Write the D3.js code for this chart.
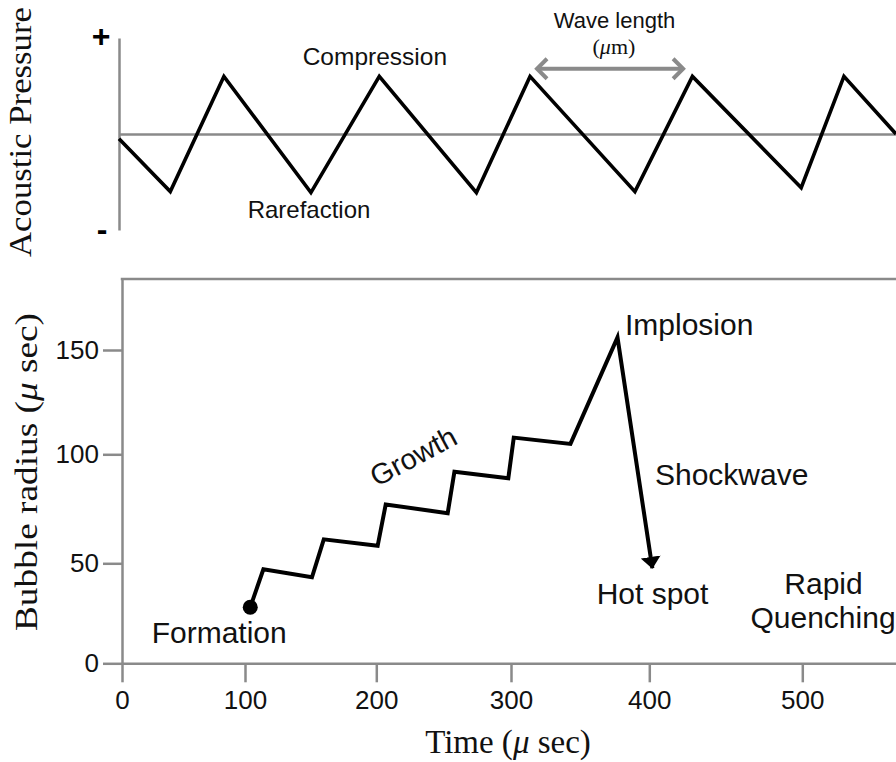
<!DOCTYPE html>
<html><head><meta charset="utf-8">
<script src="https://cdn.jsdelivr.net/npm/d3@7"></script>
<style>
html,body{margin:0;padding:0;background:#fff;}
svg{display:block;}
</style></head><body>
<svg id="chart" width="896" height="762"></svg>
<script>
// ---------------- data ----------------
// top panel: acoustic pressure wave (phase units 0-100, pressure -1..1)
const wavePhase    = [0, 6.6, 13.5, 24.7, 33.5, 46.0, 52.9, 66.4, 73.8, 87.8, 93.3, 100];
const wavePressure = [-0.05, -0.6, 0.6, -0.61, 0.6, -0.61, 0.6, -0.6, 0.6, -0.56, 0.6, 0];
// bottom panel: bubble radius vs time
const bubbleTime   = [104, 114, 151, 160, 201, 207, 253, 258, 298, 302, 343, 377, 402];
const bubbleRadius = [28, 47, 43, 61, 58, 77, 73, 92, 89, 108, 105, 156, 47.5];
const timeTicks    = [0, 100, 200, 300, 400, 500];
const radiusTicks  = [0, 50, 100, 150];
const waveLengthSpan = [53.8, 72.6];
const waveLengthLevel = 0.68;

// ---------------- layout ----------------
const svg = d3.select("#chart");
const AXIS = "#8a8a8a";
const SANS = "'Liberation Sans', Arial, sans-serif";
const SERIF = "'Liberation Serif', 'Times New Roman', serif";

// bottom panel scales (hand-drawn, slightly non-uniform axis)
const xB = d3.scaleLinear()
  .domain([0, 100, 200, 300, 400, 500, 561.4])
  .range([122, 245, 376.3, 511, 649.3, 802.3, 896]);
const yB = d3.scaleLinear()
  .domain([0, 50, 100, 150, 184])
  .range([663.3, 563.3, 454.3, 350, 279]);

// top panel scales
const xT = d3.scaleLinear().domain([0, 100]).range([119, 896]);
const yT = d3.scaleLinear().domain([-1, 1]).range([230, 38]);

// defs
const defs = svg.append("defs");
defs.append("marker").attr("id", "tri")
  .attr("markerUnits", "userSpaceOnUse")
  .attr("viewBox", "0 -10 12 20").attr("markerWidth", 12).attr("markerHeight", 20)
  .attr("refX", 11.5).attr("refY", 0).attr("orient", "auto")
  .append("path").attr("d", "M0,-10L12,0L0,10Z").attr("fill", "#000");
defs.append("marker").attr("id", "chev")
  .attr("markerUnits", "userSpaceOnUse")
  .attr("viewBox", "-14 -14 18 28").attr("markerWidth", 18).attr("markerHeight", 28)
  .attr("refX", 0).attr("refY", 0).attr("orient", "auto-start-reverse")
  .append("path").attr("d", "M-10,-10L0,0L-10,10")
  .attr("fill", "none").attr("stroke", AXIS).attr("stroke-width", 4);

// ---------------- top panel ----------------
const gTop = svg.append("g");
gTop.append("g").attr("transform", `translate(${xT(0)},0)`)
  .call(d3.axisLeft(yT).tickValues([]).tickSizeOuter(0));
gTop.append("g").attr("transform", `translate(0,${yT(0)})`)
  .call(d3.axisBottom(xT).tickValues([]).tickSizeOuter(0));
gTop.selectAll(".domain").attr("stroke", AXIS).attr("stroke-width", 2.5);

const waveData = wavePhase.map((p, i) => [p, wavePressure[i]]);
gTop.append("path").datum(waveData)
  .attr("d", d3.line().x(d => xT(d[0])).y(d => yT(d[1])))
  .attr("fill", "none").attr("stroke", "#000").attr("stroke-width", 3.6)
  .attr("stroke-linejoin", "miter").attr("stroke-miterlimit", 10);

gTop.append("text").attr("x", xT(0) - 18).attr("y", yT(1) + 9)
  .attr("text-anchor", "middle").attr("font-family", SANS).attr("font-weight", "bold")
  .attr("font-size", 32).text("+");
gTop.append("text").attr("x", xT(0) - 17).attr("y", yT(-1) + 10)
  .attr("text-anchor", "middle").attr("font-family", SANS).attr("font-weight", "bold")
  .attr("font-size", 32).text("-");

// wave length arrow
gTop.append("line")
  .attr("x1", xT(waveLengthSpan[0])).attr("x2", xT(waveLengthSpan[1]))
  .attr("y1", yT(waveLengthLevel)).attr("y2", yT(waveLengthLevel))
  .attr("stroke", AXIS).attr("stroke-width", 4)
  .attr("marker-start", "url(#chev)").attr("marker-end", "url(#chev)");

const topLabels = [
  {text: "Compression", p: 23.64, v: 0.719, anchor: "start", size: 24.5},
  {text: "Rarefaction", p: 16.56, v: -0.875, anchor: "start", size: 24},
  {text: "Wave length", p: 63.77, v: 1.104, anchor: "middle", size: 22}
];
gTop.selectAll("text.lbl").data(topLabels).join("text").attr("class", "lbl")
  .attr("x", d => xT(d.p)).attr("y", d => yT(d.v))
  .attr("text-anchor", d => d.anchor).attr("font-family", SANS)
  .attr("font-size", d => d.size).attr("fill", "#111").text(d => d.text);

const um = gTop.append("text").attr("x", xT(63.7)).attr("y", yT(0.83))
  .attr("text-anchor", "middle").attr("font-family", SERIF).attr("font-size", 22).attr("fill", "#111");
um.append("tspan").text("(");
um.append("tspan").attr("font-style", "italic").text("μ");
um.append("tspan").text("m)");

gTop.append("text").attr("transform", "translate(31,132) rotate(-90)")
  .attr("text-anchor", "middle").attr("font-family", SERIF).attr("font-size", 32)
  .attr("fill", "#111").attr("textLength", 250).attr("lengthAdjust", "spacingAndGlyphs")
  .text("Acoustic Pressure");

// ---------------- bottom panel ----------------
const gB = svg.append("g");
const gx = gB.append("g").attr("transform", `translate(0,${yB(0)})`)
  .call(d3.axisBottom(xB).tickValues(timeTicks).tickSize(19).tickSizeOuter(0).tickPadding(8));
const gy = gB.append("g").attr("transform", `translate(${xB(0)},0)`)
  .call(d3.axisLeft(yB).tickValues(radiusTicks).tickSize(19).tickSizeOuter(0).tickPadding(4));
[gx, gy].forEach(g => {
  g.selectAll(".domain").attr("stroke", AXIS).attr("stroke-width", 2.5);
  g.selectAll(".tick line").attr("stroke", AXIS).attr("stroke-width", 2.5);
  g.selectAll(".tick text").attr("font-family", SANS).attr("font-size", 26).attr("fill", "#111");
});
gB.append("line")
  .attr("x1", xB(0) - 1.25).attr("x2", xB.range()[xB.range().length - 1])
  .attr("y1", yB(184)).attr("y2", yB(184))
  .attr("stroke", AXIS).attr("stroke-width", 2.5);

const bubbleData = bubbleTime.map((t, i) => [t, bubbleRadius[i]]);
gB.append("path").datum(bubbleData)
  .attr("d", d3.line().x(d => xB(d[0])).y(d => yB(d[1])))
  .attr("fill", "none").attr("stroke", "#000").attr("stroke-width", 4)
  .attr("stroke-linejoin", "miter").attr("stroke-miterlimit", 10)
  .attr("marker-end", "url(#tri)");
gB.append("circle").attr("cx", xB(bubbleData[0][0])).attr("cy", yB(bubbleData[0][1]))
  .attr("r", 7.5).attr("fill", "#000");

const bottomLabels = [
  {text: "Formation", t: 79, r: 10.2, anchor: "middle"},
  {text: "Implosion", t: 382.4, r: 157.2, anchor: "start"},
  {text: "Shockwave", t: 403.7, r: 85.9, anchor: "start"},
  {text: "Hot spot", t: 402.1, r: 29.6, anchor: "middle"},
  {text: "Rapid", t: 513.9, r: 34.6, anchor: "middle"},
  {text: "Quenching", t: 513.6, r: 17.6, anchor: "middle"}
];
gB.selectAll("text.lbl").data(bottomLabels).join("text").attr("class", "lbl")
  .attr("x", d => xB(d.t)).attr("y", d => yB(d.r))
  .attr("text-anchor", d => d.anchor).attr("font-family", SANS)
  .attr("font-size", 30).attr("fill", "#111").text(d => d.text);

gB.append("text")
  .attr("transform", `translate(${xB(231)},${yB(95)}) rotate(-28)`)
  .attr("text-anchor", "middle").attr("font-family", SANS).attr("font-size", 29)
  .attr("fill", "#111").text("Growth");

// axis titles
const tt = gB.append("text").attr("x", 508).attr("y", 753).attr("text-anchor", "middle")
  .attr("font-family", SERIF).attr("font-size", 33).attr("fill", "#111");
tt.append("tspan").text("Time (");
tt.append("tspan").attr("font-style", "italic").text("μ");
tt.append("tspan").text(" sec)");

const yt = gB.append("text").attr("transform", "translate(37,472) rotate(-90)")
  .attr("text-anchor", "middle").attr("font-family", SERIF).attr("font-size", 32)
  .attr("fill", "#111").attr("textLength", 318).attr("lengthAdjust", "spacingAndGlyphs");
yt.append("tspan").text("Bubble radius (");
yt.append("tspan").attr("font-style", "italic").text("μ");
yt.append("tspan").text(" sec)");
</script>
</body></html>
